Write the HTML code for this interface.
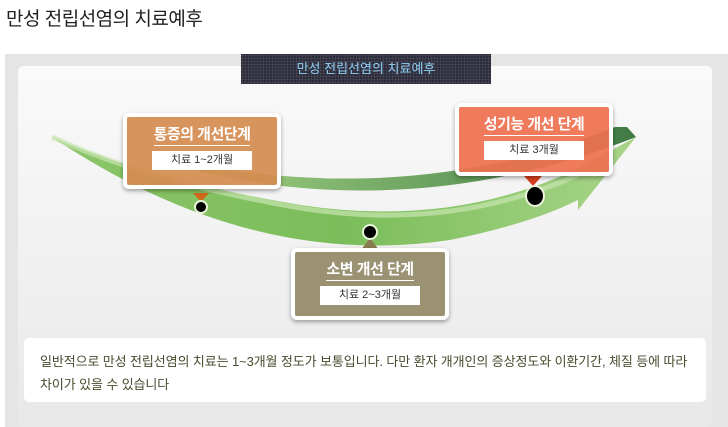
<!DOCTYPE html>
<html><head><meta charset="utf-8"><style>
*{margin:0;padding:0;box-sizing:border-box}
body{width:728px;height:427px;background:#fff;position:relative;overflow:hidden;font-family:"Liberation Sans","Noto Sans CJK KR",sans-serif}
.t{position:absolute;left:6px;top:4px;font-size:19px;color:#222;letter-spacing:-0.5px}
.bg{position:absolute;left:5px;top:54px;width:723px;height:373px;background:#e5e5e5}
.pn{position:absolute;left:18px;top:66px;width:694px;height:361px;border-radius:5px;background:linear-gradient(#fafafa,#ececec 80%,#e8e8e8)}
.bn{position:absolute;left:241px;top:54px;width:250px;height:30px;background:#2c2c3a;background-image:radial-gradient(#4a4a5a 0.8px,transparent 1px);background-size:3px 3px;color:#8fd0f5;font-size:13px;text-align:center;line-height:30px}
.bx{position:absolute;border:4px solid #fff;border-radius:6px;box-shadow:0 2px 4px rgba(0,0,0,.35);text-align:center;color:#fff}
.bx h3{font-size:15px;font-weight:bold;margin-top:8px;display:inline-block;border-bottom:1px solid #fff;letter-spacing:-0.5px;line-height:20px}
.bx div{background:#fff;color:#333;font-size:11px;width:100px;margin:5px auto 0;height:19px;line-height:19px}
.tx{position:absolute;left:24px;top:338px;width:682px;height:64px;background:#fff;border-radius:5px;padding:12px 16px;font-size:13px;line-height:23px;color:#4a4a2e;letter-spacing:-0.1px;white-space:nowrap}
</style></head><body>
<div class="t">만성 전립선염의 치료예후</div>
<div class="bg"></div>
<div class="pn"></div>
<svg style="position:absolute;left:0;top:0" width="728" height="427">
<defs>
<linearGradient id="g1" x1="0" x2="1"><stop offset="0" stop-color="#8cc56a"/><stop offset=".5" stop-color="#7bbd5a"/><stop offset="1" stop-color="#a8d48a"/></linearGradient>
<linearGradient id="g2" x1="0" x2="1"><stop offset="0" stop-color="#9fcf80"/><stop offset="1" stop-color="#3f7a45"/></linearGradient>
</defs>
<path d="M200,165 Q420,205 615,127 L627,127 L636,137 Q420,222 200,172Z" fill="url(#g2)"/>
<path d="M52,137 Q250,270 450,240 Q530,224 578,200 L578,210 L636,137 L575,170 Q450,228 300,205 Q150,180 52,137Z" fill="url(#g1)"/>
<path d="M52,137 Q150,182 300,208 Q450,232 578,175" stroke="#c8e6b0" stroke-width="5" fill="none" opacity=".7"/>
<polygon points="193,193 209,193 201,202" fill="#d06a1a"/>
<polygon points="524,176 542,176 533,186" fill="#d8401e"/>
<polygon points="361,250 379,250 370,238" fill="#8a7a50"/>
<circle cx="201" cy="207" r="6" fill="#000" stroke="#e8f4d8" stroke-width="2"/>
<circle cx="370" cy="232" r="7" fill="#000" stroke="#e8f4d8" stroke-width="2"/>
<ellipse cx="535" cy="196" rx="9" ry="10" fill="#000" stroke="#e8f4d8" stroke-width="2"/>
</svg>
<div class="bn">만성 전립선염의 치료예후</div>
<div class="bx" style="left:123px;top:113px;width:158px;height:76px;background:rgba(212,140,80,.93)"><h3>통증의 개선단계</h3><div>치료 1~2개월</div></div>
<div class="bx" style="left:455px;top:103px;width:158px;height:73px;background:rgba(238,112,80,.93)"><h3>성기능 개선 단계</h3><div>치료 3개월</div></div>
<div class="bx" style="left:291px;top:248px;width:158px;height:72px;background:#9b9173"><h3>소변 개선 단계</h3><div>치료 2~3개월</div></div>
<div class="tx">일반적으로 만성 전립선염의 치료는 1~3개월 정도가 보통입니다. 다만 환자 개개인의 증상정도와 이환기간, 체질 등에 따라<br>차이가 있을 수 있습니다</div>
</body></html>
